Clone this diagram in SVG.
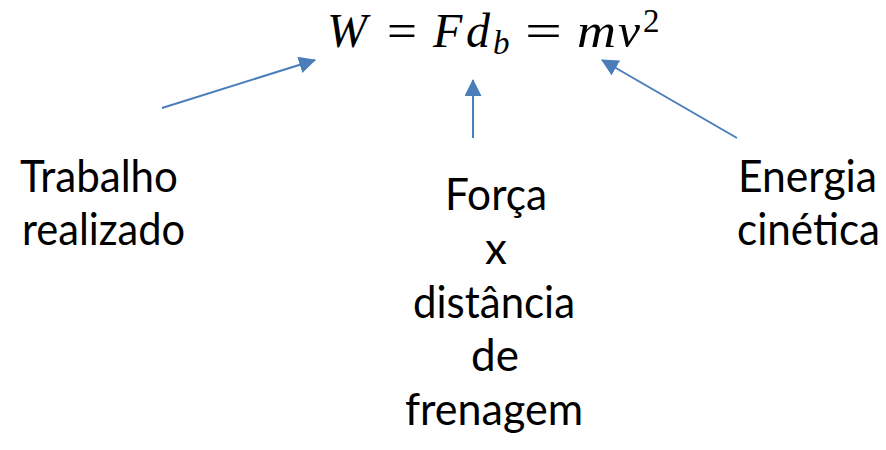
<svg xmlns="http://www.w3.org/2000/svg" width="886" height="450" viewBox="0 0 886 450">
<style>
.lbl{font-family:Lato,"Noto Sans","Liberation Sans",sans-serif;font-size:44px;fill:#000}
.m{font-family:"Liberation Serif","DejaVu Serif",serif;font-style:italic;font-size:48px;fill:#000}
.mu{font-family:"Liberation Serif","DejaVu Serif",serif;font-size:48px;fill:#000}
.ms{font-family:"Liberation Serif","DejaVu Serif",serif;font-style:italic;font-size:33px;fill:#000}
.msu{font-family:"Liberation Serif","DejaVu Serif",serif;font-size:33px;fill:#000}
.conn{stroke:#4a7ebb;stroke-width:2;fill:none;marker-end:url(#ah)}
</style>
<defs>
<marker id="ah" markerUnits="userSpaceOnUse" markerWidth="17" markerHeight="17" viewBox="0 0 16 16" refX="15" refY="8" orient="auto">
<path d="M0,0 L16,8 L0,16 Z" fill="#4a7ebb"/>
</marker>
</defs>
<rect width="886" height="450" fill="#fff"/>
<g id="equation">
<text class="m" x="327" y="47" font-size="50">W</text>
<text class="mu" x="402" y="47" text-anchor="middle" textLength="30" lengthAdjust="spacingAndGlyphs">=</text>
<text class="m" x="433" y="47">F</text>
<text class="m" x="466" y="47">d</text>
<text class="ms" x="493" y="54">b</text>
<text class="mu" x="543.5" y="47" text-anchor="middle" textLength="37" lengthAdjust="spacingAndGlyphs">=</text>
<text class="m" x="577" y="47" textLength="39" lengthAdjust="spacingAndGlyphs">m</text>
<text class="m" x="618" y="47" textLength="22" lengthAdjust="spacingAndGlyphs">v</text>
<text class="msu" x="643" y="32">2</text>
</g>
<g id="trabalho">
<text class="lbl" x="20" y="192" textLength="158" lengthAdjust="spacingAndGlyphs">Trabalho</text>
<text class="lbl" x="22" y="245" textLength="163" lengthAdjust="spacingAndGlyphs">realizado</text>
</g>
<g id="forca">
<text class="lbl" x="445" y="210" textLength="102" lengthAdjust="spacingAndGlyphs">Força</text>
<text class="lbl" x="496" y="264" text-anchor="middle">x</text>
<text class="lbl" x="413" y="318" textLength="162" lengthAdjust="spacingAndGlyphs">distância</text>
<text class="lbl" x="495" y="371" text-anchor="middle">de</text>
<text class="lbl" x="405" y="425" textLength="178" lengthAdjust="spacingAndGlyphs">frenagem</text>
</g>
<g id="energia">
<text class="lbl" x="738" y="192" textLength="139" lengthAdjust="spacingAndGlyphs">Energia</text>
<text class="lbl" x="737" y="245" textLength="143" lengthAdjust="spacingAndGlyphs">cinética</text>
</g>
<g id="connectors">
<line class="conn" x1="162" y1="108" x2="315" y2="60"/>
<line class="conn" x1="473" y1="138" x2="473" y2="80"/>
<line class="conn" x1="737" y1="138" x2="602" y2="60"/>
</g>
</svg>
